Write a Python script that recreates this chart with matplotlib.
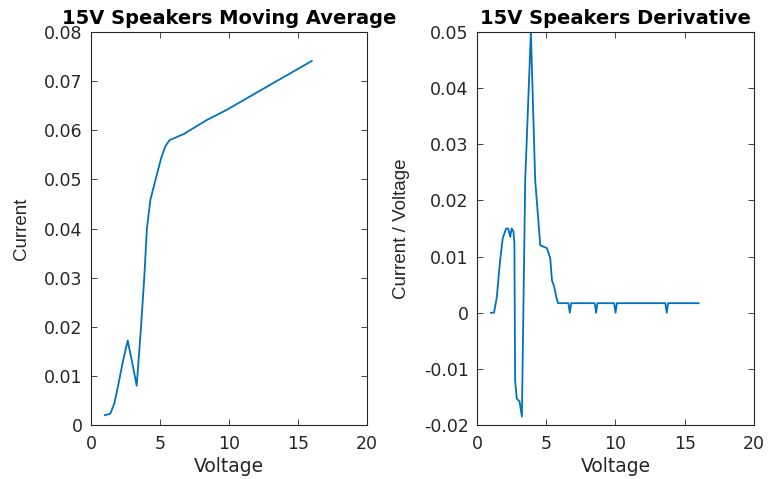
import matplotlib.pyplot as plt
from matplotlib.ticker import FuncFormatter

# moving average of current vs voltage
avg_volt = [1.0, 1.4, 1.7, 2.0, 2.3, 2.66, 3.0, 3.31, 3.6, 3.86, 4.05, 4.3, 4.7, 5.1, 5.4,
            5.7, 6.7, 8.4, 9.8, 13.7, 16.0]
avg_curr = [0.0020, 0.0023, 0.0045, 0.0085, 0.0128, 0.0172, 0.0125, 0.0080, 0.019, 0.030,
            0.040, 0.0458, 0.0502, 0.0545, 0.0568, 0.0580, 0.0592, 0.0621, 0.0641, 0.0704, 0.0741]

# derivative dI/dV
der_volt = [1.0, 1.23, 1.43, 1.67, 1.86, 2.10, 2.25, 2.40, 2.50, 2.63, 2.70, 2.75, 2.87, 3.07,
            3.24, 3.48, 3.89, 4.2, 4.57, 5.05, 5.29, 5.41, 5.58, 5.72, 5.85,
            6.6, 6.7, 6.8, 8.5, 8.6, 8.7, 9.9, 10.0, 10.1, 13.6, 13.7, 13.8, 16.0]
der_val = [0.0, 0.0, 0.0028, 0.0094, 0.0133, 0.0150, 0.0150, 0.0135, 0.0150, 0.0145, 0.0124,
           -0.012, -0.0153, -0.0158, -0.0185, 0.0236, 0.0500, 0.0236, 0.0120, 0.0115,
           0.0097, 0.0058, 0.0046, 0.0028, 0.0017,
           0.0017, 0.0, 0.0017, 0.0017, 0.0, 0.0017, 0.0017, 0.0, 0.0017, 0.0017, 0.0, 0.0017, 0.0017]

plt.rcParams['font.family'] = ['DejaVu Sans']
plt.rcParams['axes.unicode_minus'] = False

fig = plt.figure(figsize=(7.7, 4.79), dpi=100)
ax1 = fig.add_axes([0.1182, 0.1127, 0.3584, 0.8205])
ax2 = fig.add_axes([0.6195, 0.1127, 0.3597, 0.8205])

fmt = FuncFormatter(lambda v, p: '%g' % round(v, 4))
grey = '#262626'

def style(ax):
    ax.tick_params(direction='in', top=True, right=True, colors=grey,
                   labelsize=12.5, length=4, width=0.6)
    ax.tick_params(axis='x', pad=7)
    ax.tick_params(axis='y', pad=6)
    for s in ax.spines.values():
        s.set_color(grey)
        s.set_linewidth(0.8)
    ax.yaxis.set_major_formatter(fmt)
    ax.set_xlim(0, 20)
    ax.set_xticks([0, 5, 10, 15, 20])

ylab = dict(fontsize=13.5, color=grey, family='Liberation Sans', labelpad=10)

ax1.plot(avg_volt, avg_curr, color='#0072BD', lw=1.3)
style(ax1)
ax1.set_ylim(0, 0.08)
ax1.set_yticks([i / 100 for i in range(9)])
ax1.set_title('15V Speakers Moving Average', fontsize=14, fontweight='bold', pad=6)
ax1.set_xlabel('Voltage', fontsize=13.5, color=grey, labelpad=3)
ax1.set_ylabel('Current', **ylab)

ax2.plot(der_volt, der_val, color='#0072BD', lw=1.3)
style(ax2)
ax2.set_ylim(-0.02, 0.05)
ax2.set_yticks([i / 100 for i in range(-2, 6)])
ax2.set_title('15V Speakers Derivative', fontsize=14, fontweight='bold', pad=6)
ax2.set_xlabel('Voltage', fontsize=13.5, color=grey, labelpad=3)
ax2.set_ylabel('Current / Voltage', **ylab)

fig.savefig('out.png', dpi=100)
